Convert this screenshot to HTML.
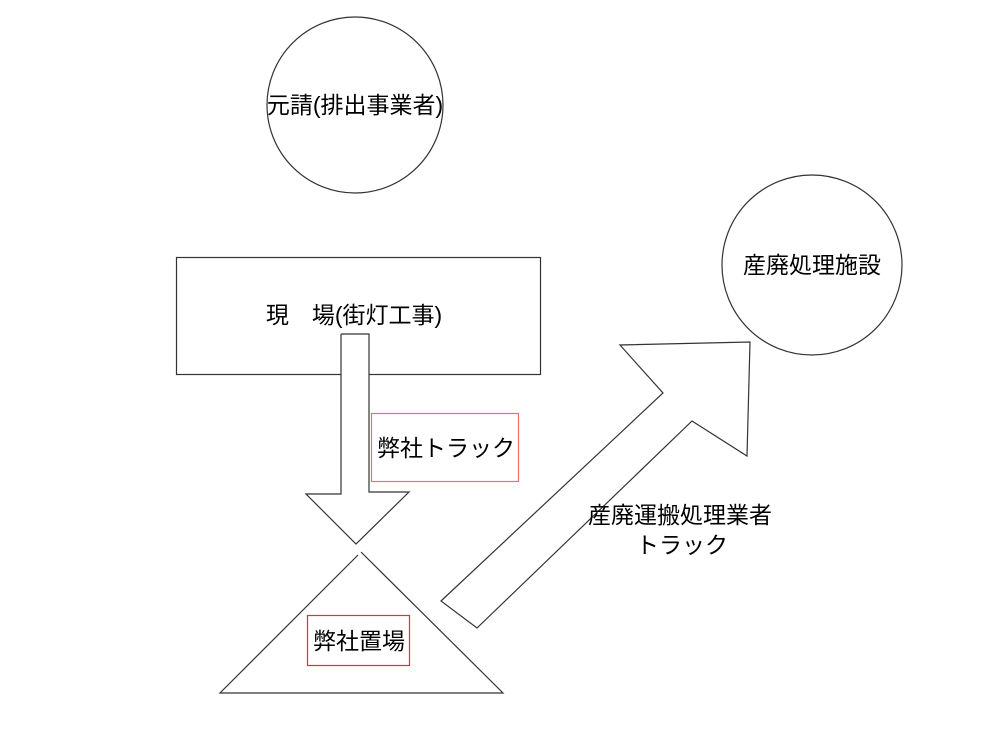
<!DOCTYPE html>
<html><head><meta charset="utf-8"><style>
html,body{margin:0;padding:0;background:#fff;}
svg text{font-family:"Liberation Sans","Noto Sans CJK JP",sans-serif;font-size:23px;fill:#000;}
</style></head><body>
<svg width="999" height="729" viewBox="0 0 999 729" xmlns="http://www.w3.org/2000/svg">
<g fill="none" stroke="#333" stroke-width="1.2">
<circle cx="355" cy="105" r="88"/>
<circle cx="812" cy="265" r="90"/>
<rect x="176.5" y="257.5" width="364" height="117"/>
<polyline points="341,334 369,334 369,492 409,492 356,544 306,494 341,494 341,334" fill="#fff"/>
<polyline points="358,555 220,693 503,693 361,552"/>
<polygon points="441,601 663,393 620,345 750,342 747,456 692,421 477,628" fill="#fff"/>
</g>
<rect x="371.5" y="413.5" width="147" height="68" fill="none" stroke="#f07070" stroke-width="1.2"/>
<rect x="307.5" y="615.5" width="102" height="50" fill="none" stroke="#e03030" stroke-width="1.2"/>
<text x="355" y="113" text-anchor="middle">元請(排出事業者)</text>
<text x="812" y="273" text-anchor="middle">産廃処理施設</text>
<text x="354" y="323" text-anchor="middle">現　場(街灯工事)</text>
<text x="377" y="456">弊社トラック</text>
<text x="313" y="649">弊社置場</text>
<text x="680" y="523" text-anchor="middle">産廃運搬処理業者</text>
<text x="682" y="553" text-anchor="middle">トラック</text>
</svg>
</body></html>
